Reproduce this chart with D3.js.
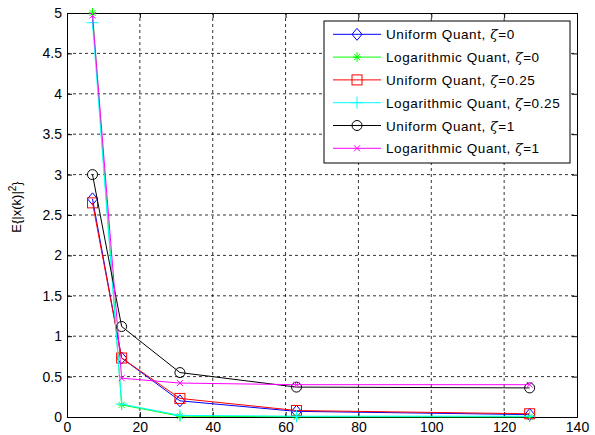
<!DOCTYPE html>
<html>
<head>
<meta charset="utf-8">
<script src="https://cdn.jsdelivr.net/npm/d3@7"></script>
<style>
  body { margin: 0; background: #fff; }
  text { font-family: "Liberation Sans", Arial, sans-serif; }
</style>
</head>
<body>
<div id="chart"></div>
<script>
// quantization levels on the x axis
var levels = [7, 15, 31, 63, 127];

var uniform0 = [2.70, 0.73, 0.20, 0.07, 0.03];
var log0 = [5.00, 0.15, 0.01, 0.003, 0.002];
var uniform025 = [2.65, 0.73, 0.23, 0.08, 0.04];
var log025 = [4.88, 0.16, 0.02, 0.01, 0.01];
var uniform1 = [3.00, 1.12, 0.55, 0.37, 0.36];
var log1 = [4.97, 0.48, 0.42, 0.40, 0.40];

var xTicks = [0, 20, 40, 60, 80, 100, 120, 140];
var yTicks = [0, 0.5, 1, 1.5, 2, 2.5, 3, 3.5, 4, 4.5, 5];

var series = [
  { name: 'Uniform Quant,  ', z: '=0', values: uniform0, color: '#0000ff', marker: 'diamond' },
  { name: 'Logarithmic Quant,  ', z: '=0', values: log0, color: '#00ff00', marker: 'star' },
  { name: 'Uniform Quant,  ', z: '=0.25', values: uniform025, color: '#ff0000', marker: 'square' },
  { name: 'Logarithmic Quant,  ', z: '=0.25', values: log025, color: '#00ffff', marker: 'plus' },
  { name: 'Uniform Quant,  ', z: '=1', values: uniform1, color: '#000000', marker: 'circle' },
  { name: 'Logarithmic Quant,  ', z: '=1', values: log1, color: '#ff00ff', marker: 'cross' }
];

var width = 595, height = 435;
var margin = { left: 67, right: 18, top: 13, bottom: 18 };

var svg = d3.select('#chart').append('svg').attr('width', width).attr('height', height);

var x = d3.scaleLinear().domain([0, 140]).range([margin.left, width - margin.right]);
var y = d3.scaleLinear().domain([0, 5]).range([height - margin.bottom, margin.top]);

var x0 = x.range()[0], x1 = x.range()[1], y0 = y.range()[0], y1 = y.range()[1];
var plain = function(d) { return String(d); };

// grid
var grid = svg.append('g').attr('stroke', '#000').attr('stroke-width', 0.8).attr('stroke-dasharray', '3,3');
grid.selectAll('.gx').data(xTicks.slice(1, -1)).enter().append('line')
  .attr('x1', function(d) { return x(d); }).attr('x2', function(d) { return x(d); })
  .attr('y1', y0).attr('y2', y1);
grid.selectAll('.gy').data(yTicks.slice(1, -1)).enter().append('line')
  .attr('y1', function(d) { return y(d); }).attr('y2', function(d) { return y(d); })
  .attr('x1', x0).attr('x2', x1);

// axes with inward ticks
var tk = 5;
svg.append('g').attr('transform', 'translate(0,' + y0 + ')')
  .call(d3.axisBottom(x).tickValues(xTicks).tickSize(-tk).tickPadding(5).tickFormat(plain))
  .call(styleAxis);
svg.append('g').attr('transform', 'translate(0,' + y1 + ')')
  .call(d3.axisTop(x).tickValues(xTicks).tickSize(-tk).tickFormat(''))
  .call(styleAxis);
svg.append('g').attr('transform', 'translate(' + x0 + ',0)')
  .call(d3.axisLeft(y).tickValues(yTicks).tickSize(-tk).tickPadding(5).tickFormat(plain))
  .call(styleAxis);
svg.append('g').attr('transform', 'translate(' + x1 + ',0)')
  .call(d3.axisRight(y).tickValues(yTicks).tickSize(-tk).tickFormat(''))
  .call(styleAxis);

function styleAxis(g) {
  g.select('.domain').attr('stroke', '#000').attr('stroke-width', 1);
  g.selectAll('.tick line').attr('stroke', '#000');
  g.selectAll('.tick text').attr('font-size', 14).attr('fill', '#000')
    .attr('font-family', '"Liberation Sans", Arial, sans-serif');
}

// y label
var yl = svg.append('text')
  .attr('transform', 'translate(21,' + ((y0 + y1) / 2 - 8) + ') rotate(-90)')
  .attr('text-anchor', 'middle').attr('font-size', 13);
yl.append('tspan').text('E{|x(k)|');
yl.append('tspan').attr('dy', -5).attr('font-size', 10).text('2');
yl.append('tspan').attr('dy', 5).text('}');

function drawMarker(g, type, cx, cy, color) {
  if (type === 'diamond') {
    g.append('path').attr('d', 'M' + cx + ',' + (cy - 6) + 'L' + (cx + 5) + ',' + cy + 'L' + cx + ',' + (cy + 6) + 'L' + (cx - 5) + ',' + cy + 'Z')
      .attr('fill', 'none').attr('stroke', color);
  } else if (type === 'square') {
    g.append('rect').attr('x', cx - 5).attr('y', cy - 5).attr('width', 10).attr('height', 10)
      .attr('fill', 'none').attr('stroke', color);
  } else if (type === 'circle') {
    g.append('circle').attr('cx', cx).attr('cy', cy).attr('r', 5)
      .attr('fill', 'none').attr('stroke', color);
  } else if (type === 'plus') {
    g.append('path').attr('d', 'M' + (cx - 6) + ',' + cy + 'H' + (cx + 6) + 'M' + cx + ',' + (cy - 6) + 'V' + (cy + 6))
      .attr('stroke', color);
  } else if (type === 'cross') {
    g.append('path').attr('d', 'M' + (cx - 3) + ',' + (cy - 3) + 'L' + (cx + 3) + ',' + (cy + 3) + 'M' + (cx - 3) + ',' + (cy + 3) + 'L' + (cx + 3) + ',' + (cy - 3))
      .attr('stroke', color);
  } else if (type === 'star') {
    g.append('path').attr('d', 'M' + (cx - 4) + ',' + cy + 'H' + (cx + 4) + 'M' + cx + ',' + (cy - 5) + 'V' + (cy + 5) +
      'M' + (cx - 3) + ',' + (cy - 3) + 'L' + (cx + 3) + ',' + (cy + 3) + 'M' + (cx - 3) + ',' + (cy + 3) + 'L' + (cx + 3) + ',' + (cy - 3))
      .attr('stroke', color);
  }
}

// series
var line = d3.line().x(function(d, i) { return x(levels[i]); }).y(function(d) { return y(d); });
series.forEach(function(s) {
  var g = svg.append('g');
  g.append('path').datum(s.values).attr('d', line)
    .attr('fill', 'none').attr('stroke', s.color).attr('stroke-width', 1);
  s.values.forEach(function(v, i) { drawMarker(g, s.marker, x(levels[i]), y(v), s.color); });
});

// legend
var lx = 324, ly = 21, lw = 246, lh = 142, step = 22.8;
var lg = svg.append('g');
lg.append('rect').attr('x', lx).attr('y', ly).attr('width', lw).attr('height', lh)
  .attr('fill', '#fff').attr('stroke', '#000');
series.forEach(function(s, i) {
  var cy = ly + 13.3 + i * step;
  lg.append('line').attr('x1', 333).attr('x2', 381).attr('y1', cy).attr('y2', cy).attr('stroke', s.color);
  drawMarker(lg, s.marker, 357, cy, s.color);
  var t = lg.append('text').attr('x', 386).attr('y', cy + 5).attr('font-size', 13.5)
    .attr('letter-spacing', 0.6).attr('fill', '#000');
  t.append('tspan').text(s.name);
  t.append('tspan').attr('font-style', 'italic').attr('font-family', '"DejaVu Serif", serif').text('\u03b6');
  t.append('tspan').text(s.z);
});
</script>
</body>
</html>
